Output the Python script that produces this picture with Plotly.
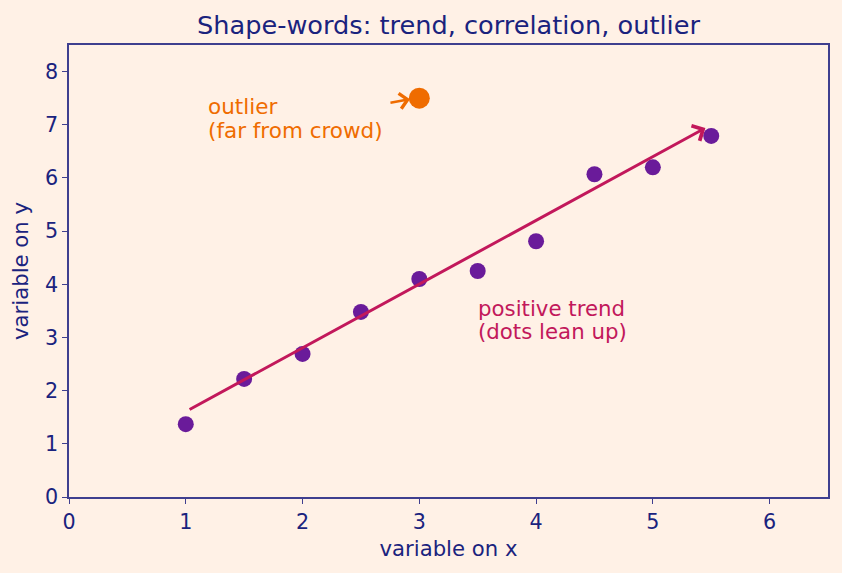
import plotly.graph_objects as go

x_vals = [1, 1.5, 2, 2.5, 3, 3.5, 4, 4.5, 5, 5.5]
y_vals = [1.37, 2.22, 2.69, 3.48, 4.10, 4.25, 4.81, 6.07, 6.20, 6.79]
outlier_x = [3]
outlier_y = [7.5]
x_ticks = [0, 1, 2, 3, 4, 5, 6]
y_ticks = [0, 1, 2, 3, 4, 5, 6, 7, 8]

NAVY = "#1a237e"
SPINE = "#3f3f8f"
BG = "#fff1e6"
PURPLE = "#6a1b9a"
ORANGE = "#ef6c00"
CRIMSON = "#c2185b"
FONT = "DejaVu Sans"
FS = 21.2

fig = go.Figure()
fig.add_trace(go.Scatter(x=x_vals, y=y_vals, mode="markers",
                         marker=dict(color=PURPLE, size=16, line=dict(width=0)),
                         showlegend=False, hoverinfo="skip"))
fig.add_trace(go.Scatter(x=outlier_x, y=outlier_y, mode="markers",
                         marker=dict(color=ORANGE, size=21, line=dict(width=0)),
                         showlegend=False, hoverinfo="skip"))

# trend arrow
fig.add_annotation(x=5.45, y=6.94, ax=1.02, ay=1.63, xref="x", yref="y",
                   axref="x", ayref="y", text="", showarrow=True,
                   arrowhead=4, arrowsize=1.1, arrowwidth=3, arrowcolor=CRIMSON)
# outlier arrow
fig.add_annotation(x=2.92, y=7.48, ax=2.74, ay=7.41, xref="x", yref="y",
                   axref="x", ayref="y", text="", showarrow=True,
                   arrowhead=4, arrowsize=1.2, arrowwidth=2.5, arrowcolor=ORANGE)

outlier_lines = ["outlier", "(far from crowd)"]
outlier_ys = [7.34, 6.90]
for t, yy in zip(outlier_lines, outlier_ys):
    fig.add_annotation(x=1.175, y=yy, xref="x", yref="y", text=t,
                       showarrow=False, xanchor="left", yanchor="middle", align="left",
                       font=dict(family=FONT, size=21.5, color=ORANGE))
trend_lines = ["positive trend", "(dots lean up)"]
trend_ys = [3.55, 3.12]
for t, yy in zip(trend_lines, trend_ys):
    fig.add_annotation(x=3.485, y=yy, xref="x", yref="y", text=t,
                       showarrow=False, xanchor="left", yanchor="middle", align="left",
                       font=dict(family=FONT, size=21.3, color=CRIMSON))

axis_common = dict(showgrid=False, zeroline=False, showline=True, linecolor=SPINE,
                   linewidth=1.5, mirror=True, ticks="outside", ticklen=5,
                   tickcolor=SPINE, tickwidth=1.2,
                   tickfont=dict(family=FONT, size=FS - 0.5, color=NAVY),
                   title_font=dict(family=FONT, size=FS, color=NAVY))

fig.update_xaxes(range=[0, 6.5], tickvals=x_ticks, title_text="variable on x",
                 title_standoff=9, **axis_common)
fig.update_yaxes(range=[0, 8.5], tickvals=y_ticks, title_text="variable on y",
                 title_standoff=11, **axis_common)

fig.update_layout(
    width=842, height=573,
    margin=dict(l=69, r=14, t=45, b=76),
    paper_bgcolor=BG, plot_bgcolor=BG,
    title=dict(text="Shape-words: trend, correlation, outlier", x=448.5 / 842,
               xanchor="center", y=1 - 25 / 573, yanchor="middle",
               font=dict(family=FONT, size=25.6, color=NAVY)),
)

fig.write_html("out.html")
